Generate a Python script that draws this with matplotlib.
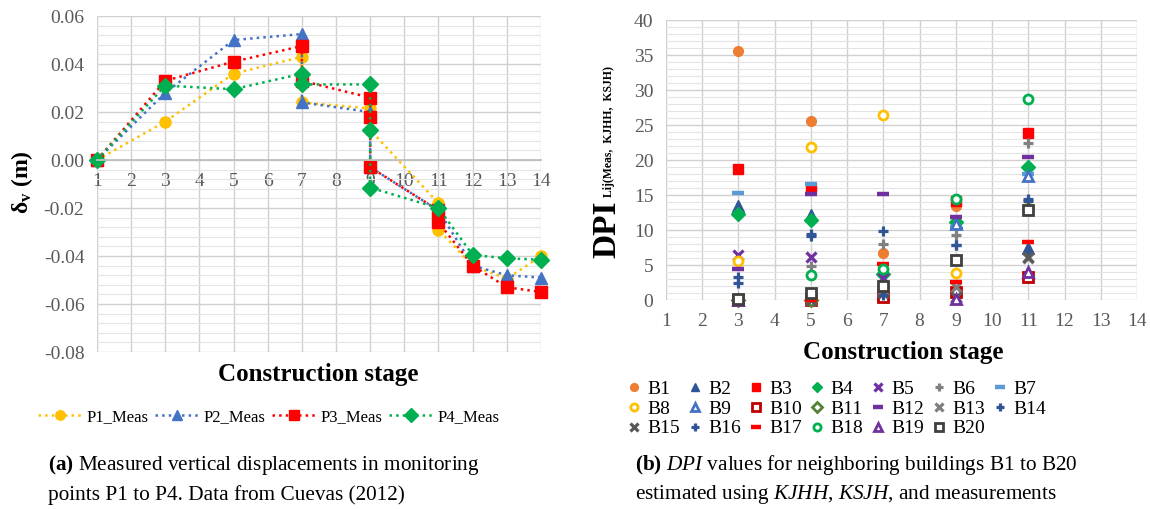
import numpy as np
import matplotlib
matplotlib.use('Agg')
import matplotlib.pyplot as plt
from matplotlib.ticker import MultipleLocator, FormatStrFormatter

plt.rcParams['font.family'] = 'Liberation Serif'
plt.rcParams['mathtext.fontset'] = 'custom'
plt.rcParams['mathtext.rm'] = 'Liberation Serif'
plt.rcParams['mathtext.it'] = 'Liberation Serif:italic'
plt.rcParams['mathtext.bf'] = 'Liberation Serif:bold'
plt.rcParams['axes.unicode_minus'] = False

# (a) measured vertical displacements (m) per construction stage
p1_x = [1, 3, 5, 7, 7, 9, 9, 11, 11, 12, 13, 14]
p1_y = [0, 0.016, 0.036, 0.043, 0.024, 0.0215, 0.0125, -0.018, -0.029, -0.044, -0.0495, -0.040]
p2_x = [1, 3, 5, 7, 7, 9, 9, 11, 12, 13, 14]
p2_y = [0, 0.028, 0.050, 0.0525, 0.024, 0.020, -0.003, -0.021, -0.044, -0.048, -0.049]
p3_x = [1, 3, 5, 7, 7, 9, 9, 9, 11, 11, 12, 13, 14]
p3_y = [0, 0.033, 0.041, 0.0475, 0.033, 0.026, 0.018, -0.003, -0.021, -0.026, -0.044, -0.053, -0.055]
p4_x = [1, 3, 5, 7, 7, 9, 9, 9, 11, 12, 13, 14]
p4_y = [0, 0.031, 0.0295, 0.036, 0.0315, 0.0315, 0.0125, -0.0115, -0.020, -0.0395, -0.041, -0.0415]
p_names = ['P1_Meas', 'P2_Meas', 'P3_Meas', 'P4_Meas']

# (b) DPI values at stages 3, 5, 7, 9, 11
stages = [3, 5, 7, 9, 11]
nan = np.nan
b1 = [35.6, 25.6, 6.7, 13.4, nan]
b2 = [13.4, 12.1, 1.0, 11.2, 7.5]
b3 = [18.7, 16.0, 1.0, 14.2, 23.8]
b4 = [12.3, 11.4, 3.7, 11.1, 19.0]
b5 = [6.4, 6.1, 3.1, 0.3, nan]
b6 = [0.0, 4.9, 8.0, 9.3, 22.5]
b7 = [15.3, 16.6, nan, 10.5, 18.0]
b8 = [5.6, 21.9, 26.4, 3.8, 13.2]
b9 = [nan, nan, nan, 10.8, 17.7]
b10 = [0.0, 0.0, 0.5, 1.2, 3.3]
b11 = [0.0, 0.0, nan, nan, nan]
b12 = [4.4, 15.1, 15.2, 11.8, 20.5]
b13 = [0.0, 0.0, 1.5, 1.9, 6.0]
b14 = [2.5, 9.4, 9.9, 7.9, 14.4]
b15 = [0.0, 0.0, 1.0, 0.5, 6.2]
b16 = [3.3, 9.2, 0.7, 7.8, 14.2]
b17 = [0.0, 0.0, 5.1, 2.6, 8.3]
b18 = [0.0, 3.6, 4.4, 14.5, 28.7]
b19 = [0.0, nan, nan, 0.1, 4.0]
b20 = [0.1, 1.0, 2.0, 5.7, 12.8]
dpi = [b1, b2, b3, b4, b5, b6, b7, b8, b9, b10,
       b11, b12, b13, b14, b15, b16, b17, b18, b19, b20]
b_names = ['B%d' % (i + 1) for i in range(20)]

p_styles = [('o', '#FFC000'), ('^', '#4472C4'), ('s', '#FF0000'), ('D', '#00B050')]
b_styles = [
    ('o', '#ED7D31', 'f'), ('^', '#2F5597', 'f'), ('s', '#FF0000', 'f'), ('D', '#00B050', 'f'),
    ('x', '#7030A0', 'l'), ('+', '#808080', 'l'), ('_', '#5B9BD5', 'l'), ('o', '#FFC000', 'o'),
    ('^', '#4472C4', 'o'), ('s', '#C00000', 'o'), ('D', '#548235', 'o'), ('_', '#7030A0', 'l'),
    ('x', '#7F7F7F', 'l'), ('+', '#2F5597', 'l'), ('x', '#595959', 'l'), ('+', '#2F5597', 'l'),
    ('_', '#FF0000', 'l'), ('o', '#00B050', 'o'), ('^', '#7030A0', 'o'), ('s', '#404040', 'o'),
]

fig = plt.figure(figsize=(11.5, 5.09), dpi=100)
ax1 = fig.add_axes([0.0843, 0.3084, 0.3861, 0.6601])
ax2 = fig.add_axes([0.5791, 0.4106, 0.4096, 0.5501])

for ax in (ax1, ax2):
    for s in ax.spines.values():
        s.set_visible(False)
    ax.tick_params(which='both', length=0, labelsize=14, labelcolor='#595959', pad=9)
    ax.grid(which='major', color='#D0D0D0', lw=1.0)
    ax.grid(which='minor', color='#E4E4E4', lw=0.8)
    ax.set_axisbelow(True)
    ax.set_xlim(1, 14)
    ax.set_xticks(range(1, 15))

# ---- left chart
ax1.set_ylim(-0.08, 0.06)
ax1.yaxis.set_major_locator(MultipleLocator(0.02))
ax1.yaxis.set_minor_locator(MultipleLocator(0.004))
ax1.yaxis.set_major_formatter(FormatStrFormatter('%.2f'))
ax1.spines['bottom'].set_visible(True)
ax1.spines['bottom'].set_position(('data', 0))
ax1.spines['bottom'].set_color('#BFBFBF')
ax1.spines['bottom'].set_linewidth(1.3)

lines = []
for xs, ys, (m, c), nm in zip([p1_x, p2_x, p3_x, p4_x], [p1_y, p2_y, p3_y, p4_y], p_styles, p_names):
    ln, = ax1.plot(xs, ys, ls=':', lw=1.8, color=c, marker=m, ms=8, mec=c, mfc=c, label=nm,
                   clip_on=False)
    lines.append(ln)

fig.text(318/1150, 1-375/509, 'Construction stage', fontsize=18, fontweight='bold', ha='center', va='center')
fig.text(22/1150, 1-182/509, r'δ$_\mathbf{v}$ (m)', rotation=90, fontsize=17, fontweight='bold',
         ha='center', va='center')
fig.legend(handles=lines, loc='center', bbox_to_anchor=(269/1150, 1-417/509), ncol=4, frameon=False,
           fontsize=12, handlelength=2.6, handletextpad=0.3, columnspacing=0.4, markerscale=0.85)

# ---- right chart
ax2.set_ylim(0, 40)
ax2.yaxis.set_major_locator(MultipleLocator(5))
ax2.yaxis.set_minor_locator(MultipleLocator(1))

handles = []
for vals, (m, c, kind), nm in zip(dpi, b_styles, b_names):
    if kind == 'f':
        kw = dict(mfc=c, mec=c, ms=7 if m != '^' else 8)
    elif kind == 'o':
        kw = dict(mfc='white', mec=c, mew=2, ms=6.5)
    else:
        kw = dict(mec=c, mew=3.2 if m == '_' else 2.3, ms=9 if m == '_' else 7.5)
    h, = ax2.plot(stages, vals, ls='none', marker=m, color=c, clip_on=False, label=nm, **kw)
    handles.append(h)

order = []
for col in range(7):
    for row in range(3):
        k = row * 7 + col
        if k < 20:
            order.append(k)
fig.legend(handles=[handles[k] for k in order], loc='center', bbox_to_anchor=(836/1150, 1-409/509),
           ncol=7, frameon=False, fontsize=14, handlelength=0.8, handletextpad=0.3,
           columnspacing=0.35, labelspacing=0.1, markerscale=0.8)

fig.text(903/1150, 1-352/509, 'Construction stage', fontsize=18, fontweight='bold', ha='center', va='center')
fig.text(622/1150, 1-258/509, 'DPI', rotation=90, fontsize=24, fontweight='bold', ha='right', va='bottom')
fig.text(615/1150, 1-197/509, 'Lij(Meas,  KJHH,  KSJH)', rotation=90, fontsize=8.5, fontweight='bold',
         ha='right', va='bottom')

# ---- captions
fig.text(48/1150, 1-465/509, r'$\mathbf{(a)}$ Measured vertical displacements in monitoring',
         fontsize=15.3, va='center')
fig.text(48/1150, 1-495/509, 'points P1 to P4. Data from Cuevas (2012)', fontsize=15.3, va='center')
fig.text(635/1150, 1-465/509, r'$\mathbf{(b)}$ $\mathit{DPI}$ values for neighboring buildings B1 to B20',
         fontsize=15.3, va='center')
fig.text(635/1150, 1-494/509, r'estimated using $\mathit{KJHH}$, $\mathit{KSJH}$, and measurements',
         fontsize=15.3, va='center')

fig.savefig('out.png', dpi=100)
